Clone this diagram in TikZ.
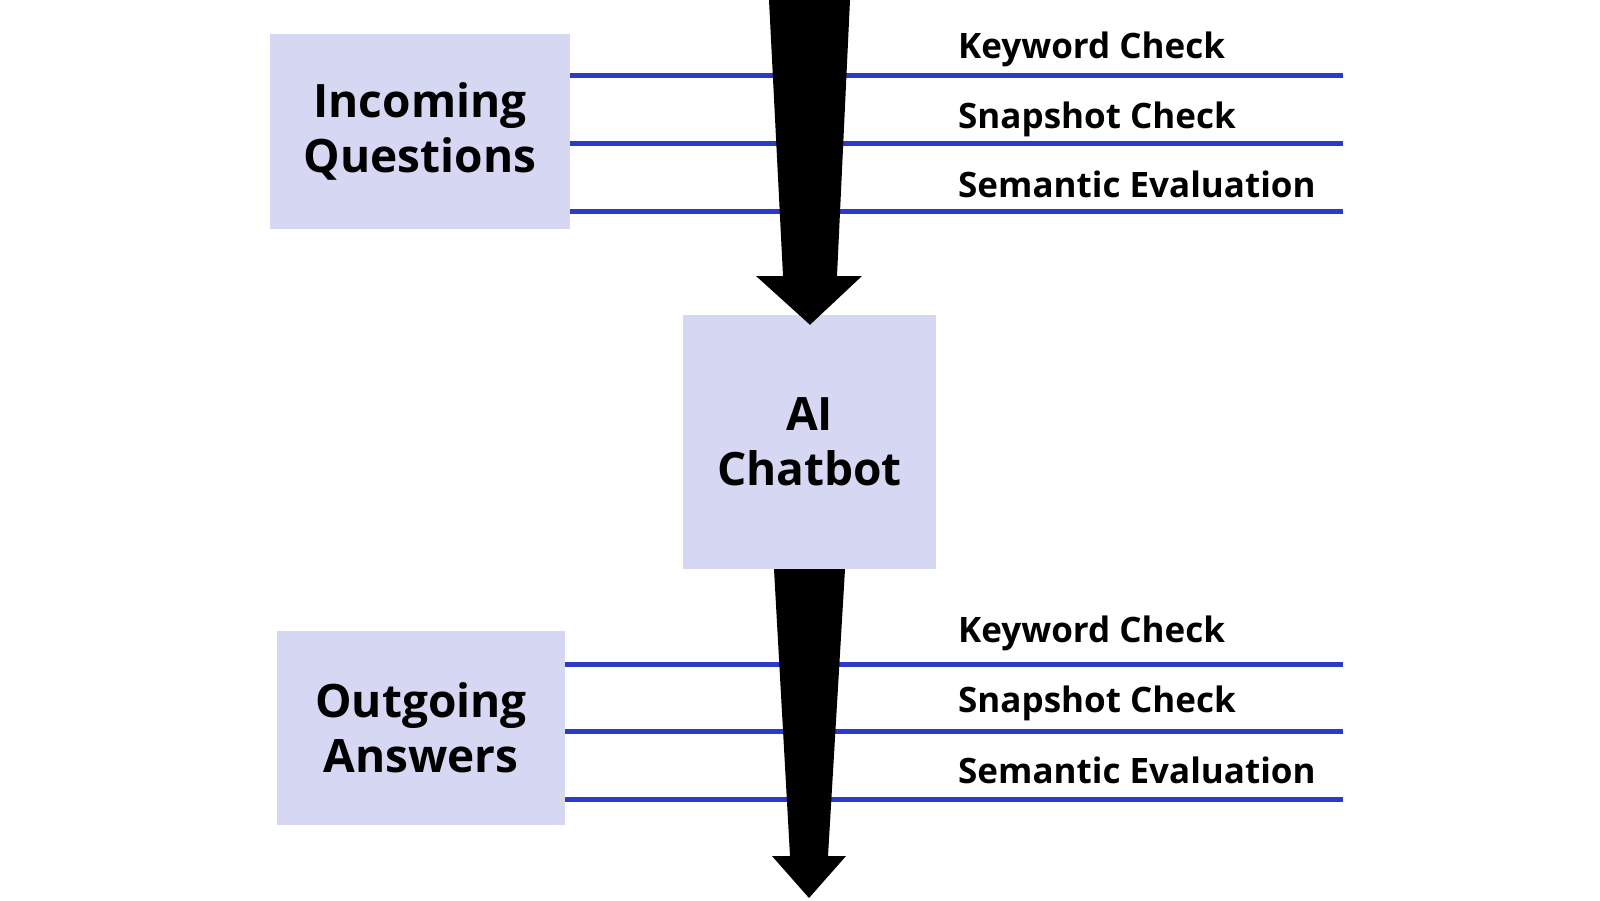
\documentclass[tikz,border=0pt]{standalone}
\usepackage{fontspec}
\setmainfont{Open Sans}
\usepackage{tikz}
\usetikzlibrary{calc}

\definecolor{boxfill}{RGB}{214,216,243}
\definecolor{lineblue}{RGB}{44,58,196}

\begin{document}
\begin{tikzpicture}[x=1pt, y=-1pt,
      stage/.style={rectangle, fill=boxfill, inner sep=0pt, align=center,
        font=\fontsize{46}{55}\selectfont\bfseries},
      check/.style={anchor=base west, inner sep=0pt, font=\fontsize{35}{40}\selectfont\bfseries},
      checkline/.style={draw=lineblue, line width=5pt},
      bigarrow/.style={fill=black}]
      \useasboundingbox (0,0) rectangle (1600,900);

      \node[stage, minimum width=300pt, minimum height=195pt] (inq) at (420,131.5) {Incoming\\Questions};
      \node[stage, minimum width=253pt, minimum height=254pt] (bot) at (809.5,442) {AI\\Chatbot};
      \node[stage, minimum width=288pt, minimum height=194pt] (outa) at (421,728) {Outgoing\\Answers};

      % Checks on the way in
      \coordinate (kwin) at (1343,75);
      \coordinate (ssin) at (1343,143);
      \coordinate (sein) at (1343,211);
      \draw[checkline] (inq.east |- kwin) -- (kwin);
      \draw[checkline] (inq.east |- ssin) -- (ssin);
      \draw[checkline] (inq.east |- sein) -- (sein);
      \node[check] (kwinlab) at (958,58) {Keyword Check};
      \node[check] (ssinlab) at (958,128) {Snapshot Check};
      \node[check] (seinlab) at (958,197) {Semantic Evaluation};

      % Checks on the way out
      \coordinate (kwout) at (1343,664);
      \coordinate (ssout) at (1343,731);
      \coordinate (seout) at (1343,799);
      \draw[checkline] (outa.east |- kwout) -- (kwout);
      \draw[checkline] (outa.east |- ssout) -- (ssout);
      \draw[checkline] (outa.east |- seout) -- (seout);
      \node[check] (kwoutlab) at (958,642) {Keyword Check};
      \node[check] (ssoutlab) at (958,712) {Snapshot Check};
      \node[check] (seoutlab) at (958,783) {Semantic Evaluation};

      % Big arrows
      \coordinate (src) at (809.5,0);
      \coordinate (sink) at (809,898);
      \fill[bigarrow] ($(src)+(-40.5,0)$) -- ($(src)+(40.5,0)$) -- (837,276) -- (862,276)
        -- ($(bot.north)+(0.5,10)$) -- (756,276) -- (783,276) -- cycle;
      \fill[bigarrow] ($(bot.south)+(-35.5,0)$) -- ($(bot.south)+(35.5,0)$) -- (828,856) -- (846,856)
        -- (sink) -- (772,856) -- (790,856) -- cycle;
    \end{tikzpicture}
\end{document}
